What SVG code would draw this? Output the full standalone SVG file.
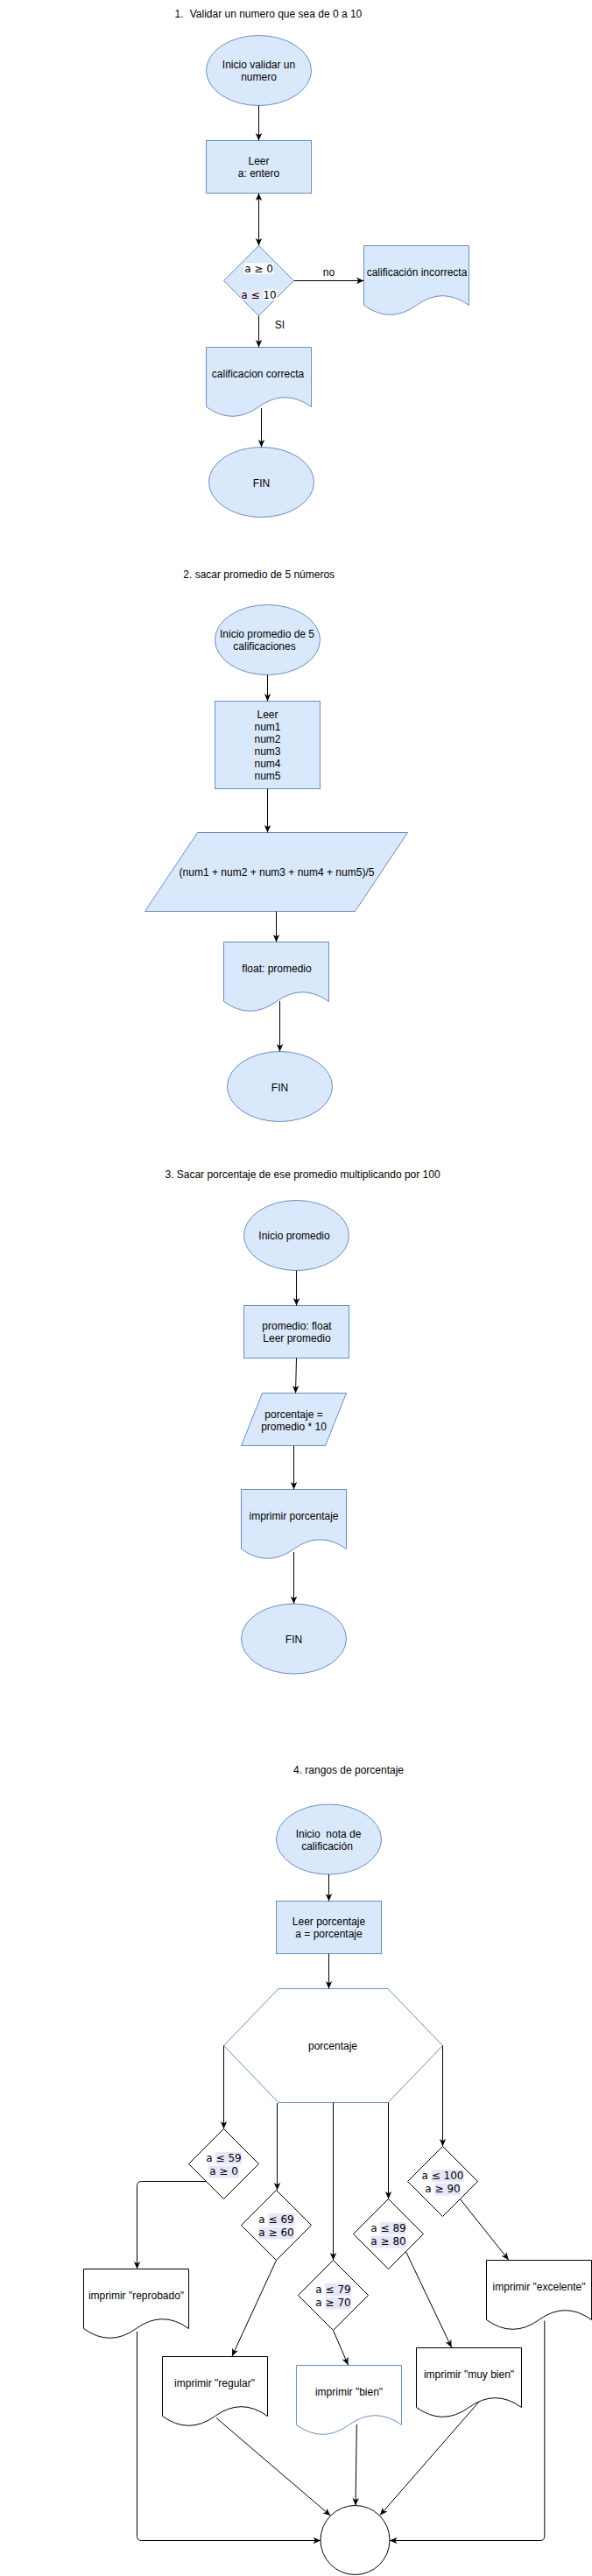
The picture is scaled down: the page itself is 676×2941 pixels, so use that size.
<svg xmlns="http://www.w3.org/2000/svg" width="676" height="2941" viewBox="0 0 676 2941">
<style>
.t{font-family:"Liberation Sans",Arial,Helvetica,sans-serif;font-size:12px;fill:#000;text-anchor:middle}
.m{font-family:"DejaVu Sans",Verdana,sans-serif;font-size:12px;fill:#000;text-anchor:middle}
.blue{fill:#dae8fc;stroke:#6c8ebf;stroke-width:1}
.wb{fill:#fff;stroke:#6c8ebf;stroke-width:1}
.wk{fill:#fff;stroke:#000;stroke-width:1}
.ln{fill:none;stroke:#000;stroke-width:1;marker-end:url(#arr)}
.hl{fill:#e6e6fa}
.hw{fill:#fff}
</style>
<defs>
<marker id="arr" markerUnits="userSpaceOnUse" markerWidth="10" markerHeight="10" viewBox="0 0 10 10" refX="10" refY="5" orient="auto-start-reverse">
<path d="M1.5,1.3 L10,5 L1.5,8.7 L3.8,5 Z" fill="#000"/>
</marker>
</defs>
<rect width="676" height="2941" fill="#fff"/>

<!-- Titles -->
<g id="title1"><text class="t" style="text-anchor:start" y="19.5"><tspan x="199.5">1.</tspan><tspan x="216.7">Validar un numero que sea de 0 a 10</tspan></text></g>
<g id="title2"><text class="t" x="295.7" y="660">2. sacar promedio de 5 números</text></g>
<g id="title3"><text class="t" x="345.5" y="1344.7">3. Sacar porcentaje de ese promedio multiplicando por 100</text></g>
<g id="title4"><text class="t" x="398" y="2025">4. rangos de porcentaje</text></g>

<!-- Section 1 -->
<g id="s1-inicio"><ellipse class="blue" cx="295.5" cy="80.5" rx="60" ry="40"/><text class="t" x="295.5" y="77.8">Inicio validar un</text><text class="t" x="295.5" y="91.9">numero</text></g>
<g id="s1-leer"><rect class="blue" x="235.5" y="160.5" width="120" height="60"/><text class="t" x="295.5" y="188">Leer</text><text class="t" x="295.5" y="202">a: entero</text></g>
<g id="s1-decision"><polygon class="blue" points="295.5,280.5 335.5,320.5 295.5,360.5 255.5,320.5"/>
<rect class="hw" x="278.7" y="300.5" width="33.6" height="12.5"/>
<rect class="hl" x="274.5" y="330.5" width="26.5" height="12.5"/>
<rect class="hw" x="301" y="330.5" width="15.5" height="12.5"/>
<text class="m" x="295.5" y="311">a ≥ 0</text><text class="m" x="295.5" y="341">a ≤ 10</text></g>
<g id="s1-incorrecta"><path class="blue" d="M415.5,280.5 L535.5,280.5 L535.5,348.5 Q505.5,326.9 475.5,348.5 Q445.5,370.1 415.5,348.5 Z"/><text class="t" x="476" y="314.5">calificación incorrecta</text></g>
<g id="s1-correcta"><path class="blue" d="M235.5,396.5 L355.5,396.5 L355.5,464.5 Q325.5,442.9 295.5,464.5 Q265.5,486.1 235.5,464.5 Z"/><text class="t" x="294.5" y="430.5">calificacion correcta</text></g>
<g id="s1-fin"><ellipse class="blue" cx="298.5" cy="550.5" rx="60" ry="40"/><text class="t" x="298.5" y="555.5">FIN</text></g>

<!-- Section 2 -->
<g id="s2-inicio"><ellipse class="blue" cx="305.5" cy="730.5" rx="60" ry="40"/><text class="t" x="305" y="728">Inicio promedio de 5</text><text class="t" x="302" y="742">calificaciones</text></g>
<g id="s2-leer"><rect class="blue" x="245.5" y="800.5" width="120" height="100"/>
<text class="t" x="305.5" y="820">Leer</text><text class="t" x="305.5" y="834">num1</text><text class="t" x="305.5" y="848">num2</text><text class="t" x="305.5" y="862">num3</text><text class="t" x="305.5" y="876">num4</text><text class="t" x="305.5" y="890">num5</text></g>
<g id="s2-calc"><polygon class="blue" points="225.5,950.5 465.5,950.5 405.5,1040.5 165.5,1040.5"/><text class="t" x="316" y="1000">(num1 + num2 + num3 + num4 + num5)/5</text></g>
<g id="s2-promedio"><path class="blue" d="M255.5,1075.5 L375.5,1075.5 L375.5,1143.5 Q345.5,1121.9 315.5,1143.5 Q285.5,1165.1 255.5,1143.5 Z"/><text class="t" x="316" y="1109.5">float: promedio</text></g>
<g id="s2-fin"><ellipse class="blue" cx="319.5" cy="1240.5" rx="60" ry="40"/><text class="t" x="319.5" y="1245.5">FIN</text></g>

<!-- Section 3 -->
<g id="s3-inicio"><ellipse class="blue" cx="338.5" cy="1410.5" rx="60" ry="40"/><text class="t" x="336" y="1415">Inicio promedio</text></g>
<g id="s3-leer"><rect class="blue" x="278.5" y="1490.5" width="120" height="60"/><text class="t" x="339" y="1518">promedio: float</text><text class="t" x="339" y="1532">Leer promedio</text></g>
<g id="s3-calc"><polygon class="blue" points="299.5,1590.5 395.5,1590.5 371.5,1650.5 275.5,1650.5"/><text class="t" x="335.5" y="1618.5">porcentaje =</text><text class="t" x="335.5" y="1632.5">promedio * 10</text></g>
<g id="s3-imprimir"><path class="blue" d="M275.5,1700.5 L395.5,1700.5 L395.5,1768.5 Q365.5,1746.9 335.5,1768.5 Q305.5,1790.1 275.5,1768.5 Z"/><text class="t" x="335.5" y="1734.5">imprimir porcentaje</text></g>
<g id="s3-fin"><ellipse class="blue" cx="335.5" cy="1871" rx="60" ry="40"/><text class="t" x="335.5" y="1875.5">FIN</text></g>

<!-- Section 4 -->
<g id="s4-inicio"><ellipse class="blue" cx="375.5" cy="2100" rx="60" ry="40"/><text class="t" x="375" y="2098" xml:space="preserve">Inicio  nota de</text><text class="t" x="373.5" y="2112">calificación</text></g>
<g id="s4-leer"><rect class="blue" x="315.5" y="2170.5" width="120" height="60"/><text class="t" x="375.5" y="2198">Leer porcentaje</text><text class="t" x="375.5" y="2212">a = porcentaje</text></g>
<g id="s4-porcentaje"><polygon class="wb" points="255.5,2335.5 318,2270.5 443,2270.5 505.5,2335.5 443,2400.5 318,2400.5"/><text class="t" x="380" y="2340">porcentaje</text></g>

<g id="s4-d59"><polygon class="wk" points="255.5,2430.5 295.5,2470.5 255.5,2510.5 215.5,2470.5"/>
<rect class="hl" x="246.2" y="2457" width="29.8" height="14"/><rect class="hl" x="238" y="2472.5" width="35" height="14"/>
<text class="m" x="255.5" y="2467.5">a ≤ 59</text><text class="m" x="255.5" y="2483">a ≥ 0</text></g>
<g id="s4-d69"><polygon class="wk" points="315.5,2500.5 355.5,2540.5 315.5,2580.5 275.5,2540.5"/>
<rect class="hl" x="306.2" y="2527" width="29.8" height="14"/><rect class="hl" x="294.9" y="2542.5" width="41.2" height="14"/>
<text class="m" x="315.5" y="2537.5">a ≤ 69</text><text class="m" x="315.5" y="2553">a ≥ 60</text></g>
<g id="s4-d79"><polygon class="wk" points="380.5,2580.5 420.5,2620.5 380.5,2660.5 340.5,2620.5"/>
<rect class="hl" x="371.2" y="2607" width="29.8" height="14"/><rect class="hl" x="371.2" y="2622.5" width="29.8" height="14"/>
<text class="m" x="380.5" y="2617.5">a ≤ 79</text><text class="m" x="380.5" y="2633">a ≥ 70</text></g>
<g id="s4-d89"><polygon class="wk" points="443.5,2510.5 483.5,2550.5 443.5,2590.5 403.5,2550.5"/>
<rect class="hl" x="434.2" y="2537" width="29.8" height="14"/><rect class="hl" x="422.9" y="2552.5" width="41.2" height="14"/>
<text class="m" x="443.5" y="2547.5">a ≤ 89</text><text class="m" x="443.5" y="2563">a ≥ 80</text></g>
<g id="s4-d100"><polygon class="wk" points="505.5,2450.5 545.5,2490.5 505.5,2530.5 465.5,2490.5"/>
<rect class="hl" x="492.7" y="2477" width="36.8" height="14"/><rect class="hl" x="496.2" y="2492.5" width="29.8" height="14"/>
<text class="m" x="505.5" y="2487.5">a ≤ 100</text><text class="m" x="505.5" y="2503">a ≥ 90</text></g>

<g id="s4-reprobado"><path class="wk" d="M95.5,2590.5 L215.5,2590.5 L215.5,2658.5 Q185.5,2636.9 155.5,2658.5 Q125.5,2680.1 95.5,2658.5 Z"/><text class="t" x="155.5" y="2624.5">imprimir "reprobado"</text></g>
<g id="s4-regular"><path class="wk" d="M185.5,2690.5 L305.5,2690.5 L305.5,2758.5 Q275.5,2736.9 245.5,2758.5 Q215.5,2780.1 185.5,2758.5 Z"/><text class="t" x="245" y="2724.5">imprimir "regular"</text></g>
<g id="s4-bien"><path class="wb" d="M338.5,2700.5 L458.5,2700.5 L458.5,2768.5 Q428.5,2746.9 398.5,2768.5 Q368.5,2790.1 338.5,2768.5 Z"/><text class="t" x="398.5" y="2734.5">imprimir "bien"</text></g>
<g id="s4-muybien"><path class="wk" d="M475.5,2680.5 L595.5,2680.5 L595.5,2748.5 Q565.5,2726.9 535.5,2748.5 Q505.5,2770.1 475.5,2748.5 Z"/><text class="t" x="535.5" y="2714.5">imprimir "muy bien"</text></g>
<g id="s4-excelente"><path class="wk" d="M555.5,2580.5 L675.5,2580.5 L675.5,2648.5 Q645.5,2626.9 615.5,2648.5 Q585.5,2670.1 555.5,2648.5 Z"/><text class="t" x="615.5" y="2614.5">imprimir "excelente"</text></g>
<g id="s4-fin"><circle class="wk" cx="405.5" cy="2900" r="39.5"/></g>

<!-- Connectors -->
<g id="connectors">
<path class="ln" d="M295.5,120.5 L295.5,160.5"/>
<path class="ln" style="marker-start:url(#arr)" d="M295.5,220.5 L295.5,280.5"/>
<path class="ln" d="M335.5,320.5 L415.5,320.5"/>
<path class="ln" d="M295.5,360.5 L295.5,396.5"/>
<path class="ln" d="M298.5,466 L298.5,510.5"/>
<text class="t" x="375.5" y="315">no</text>
<text class="t" x="319.5" y="375">SI</text>

<path class="ln" d="M305.5,770.5 L305.5,800.5"/>
<path class="ln" d="M305.5,900.5 L305.5,950.5"/>
<path class="ln" d="M315.5,1040.5 L315.5,1075.5"/>
<path class="ln" d="M319.5,1143 L319.5,1200.5"/>

<path class="ln" d="M338.5,1450.5 L338.5,1490.5"/>
<path class="ln" d="M338.5,1550.5 L337.5,1590.5"/>
<path class="ln" d="M335.5,1650.5 L335.5,1700.5"/>
<path class="ln" d="M335.5,1772 L335.5,1831"/>

<path class="ln" d="M375.5,2140 L375.5,2170.5"/>
<path class="ln" d="M375.5,2230.5 L375.5,2270.5"/>
<path class="ln" d="M255.5,2335.5 L255.5,2430.5"/>
<path class="ln" d="M316.5,2401 L316.5,2500.5"/>
<path class="ln" d="M380.5,2400.5 L380.5,2580.5"/>
<path class="ln" d="M443.5,2400.5 L443.5,2510.5"/>
<path class="ln" d="M505.5,2335.5 L505.5,2450.5"/>
<path class="ln" d="M235.5,2490.5 L161.5,2490.5 Q156.5,2490.5 156.5,2495.5 L156.5,2590.5"/>
<path class="ln" d="M315.5,2580.5 L265,2690"/>
<path class="ln" d="M380.5,2660.5 L397.5,2700"/>
<path class="ln" d="M463.7,2571 L515.6,2680"/>
<path class="ln" d="M525.7,2511 L580.7,2580"/>
<path class="ln" d="M156.5,2662 L156.5,2895.5 Q156.5,2900.5 161.5,2900.5 L366,2900.5"/>
<path class="ln" d="M247,2760.5 L377.3,2872"/>
<path class="ln" d="M407.3,2768 L406,2860.5"/>
<path class="ln" d="M546.6,2742.5 L434,2871.5"/>
<path class="ln" d="M621.8,2649.5 L621.8,2895.5 Q621.8,2900.5 616.8,2900.5 L445,2900.5"/>
</g>
</svg>
